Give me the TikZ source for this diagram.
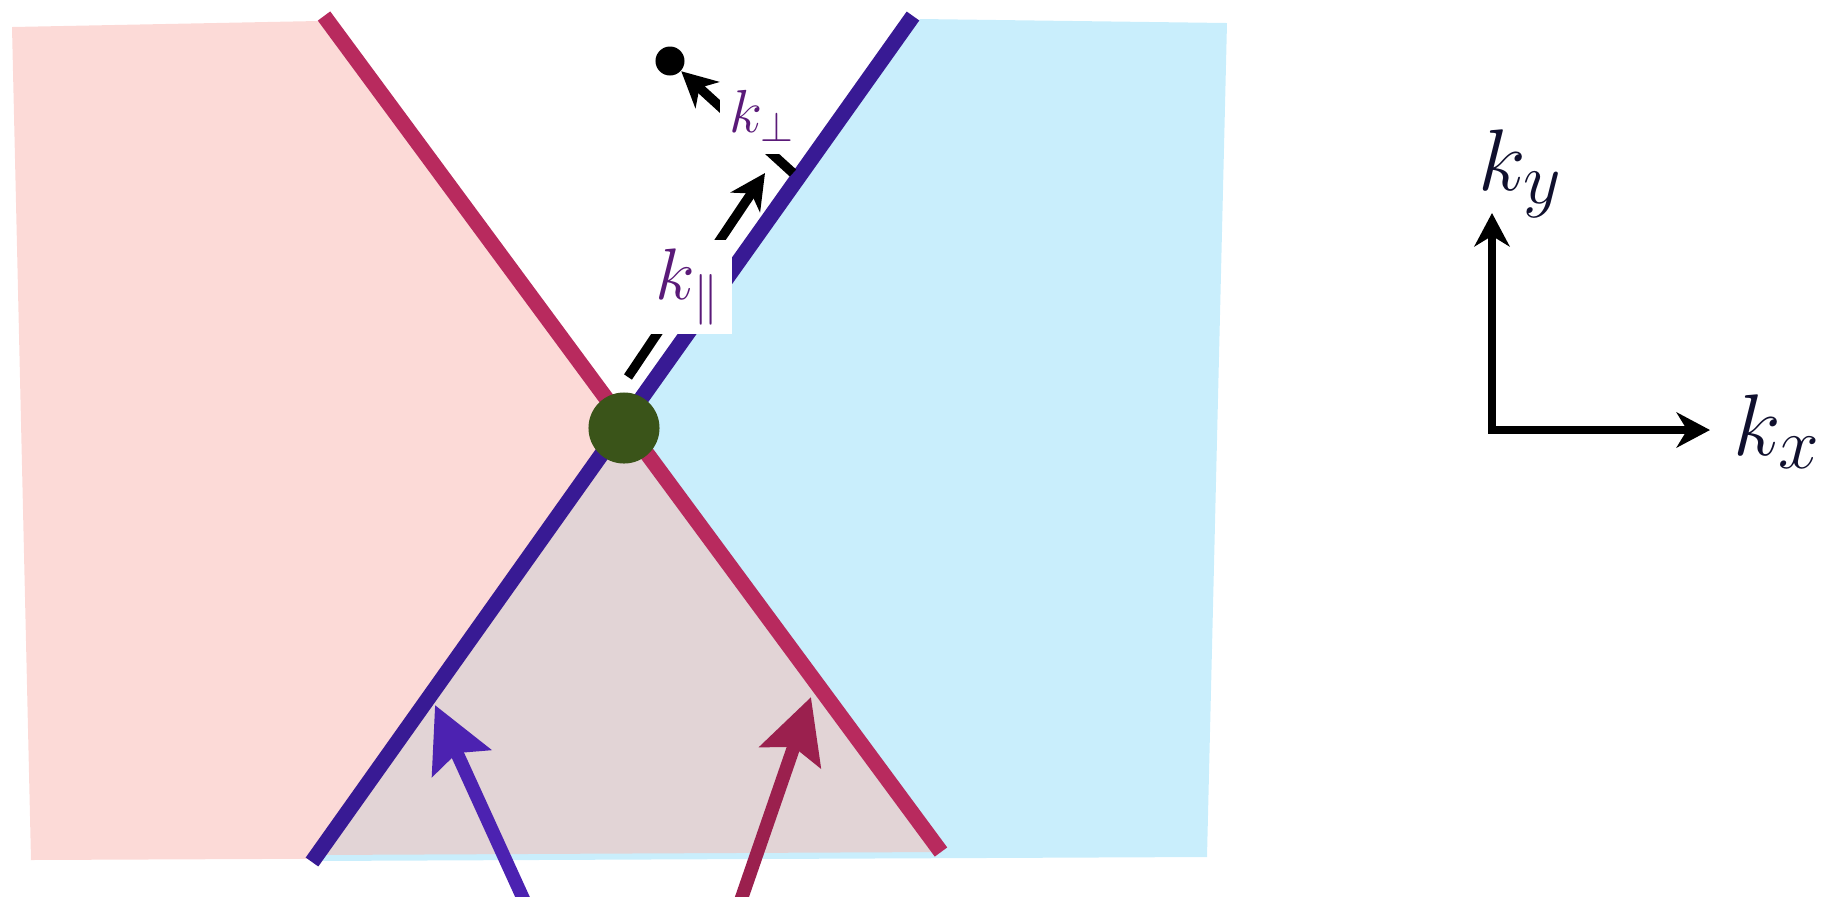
\documentclass[tikz,border=0pt]{standalone}
\usepackage{amsmath,amssymb}
\usetikzlibrary{arrows.meta}
\definecolor{PinkFill}{HTML}{FCDAD7}
\definecolor{SkyFill}{HTML}{C9EEFC}
\definecolor{Mauve}{HTML}{E2D4D6}
\definecolor{WallRed}{HTML}{B82A5E}
\definecolor{WallBlue}{HTML}{381A94}
\definecolor{Olive}{HTML}{3A5419}
\definecolor{ProbeBlue}{HTML}{4C22B1}
\definecolor{ProbeRed}{HTML}{9B204E}
\definecolor{LabPurple}{HTML}{5A1A78}
\definecolor{LabNavy}{HTML}{10102E}
\begin{document}
\begin{tikzpicture}[x=0.01cm,y=-0.01cm,
    wall/.style={line width=4.4pt},
    kvec/.style={-{Stealth[length=10pt,width=10pt,inset=3pt]},line width=2.7pt},
    probe/.style={-{Stealth[length=18pt,width=18pt,inset=3pt]},line width=3.8pt},
    axis/.style={{Stealth[length=9.5pt,width=10pt,inset=3pt]}-{Stealth[length=9.5pt,width=10pt,inset=3pt]},line width=2pt},
    klab/.style={text=LabPurple,fill=white,inner sep=0pt},
    axlab/.style={text=LabNavy,font=\Huge,inner sep=0pt,anchor=base west}]
    \useasboundingbox (0,0) rectangle (1832,896);
    \coordinate (X) at (624,428);
    \coordinate (redTop) at (324,16);
    \coordinate (redBot) at (941,852);
    \coordinate (blueTop) at (913,16);
    \coordinate (blueBot) at (312,862);
    \fill[PinkFill] (12,27) -- (318,21) -- (X) -- (941,856) -- (31,860) -- cycle;
    \fill[SkyFill] (X) -- (920,19) -- (1227,23) -- (1207,857) -- (312,861) -- cycle;
    \fill[Mauve] (X) -- (317,855) -- (941,852) -- cycle;
    \draw[wall,WallRed] (redTop) -- (redBot);
    \draw[wall,WallBlue] (blueTop) -- (blueBot);
    \node[circle,fill=Olive,minimum size=0.71cm,inner sep=0pt] (gamma) at (X) {};
    \coordinate (kparS) at (628,377);
    \coordinate (kparE) at (765,173);
    \coordinate (kperS) at (793,173);
    \node[circle,fill=black,minimum size=0.29cm,inner sep=0pt] (tip) at (670,61) {};
    \draw[kvec] (kparS) -- (kparE);
    \draw[kvec] (kperS) -- (tip);
    \node[klab,font=\huge,minimum width=0.87cm,minimum height=0.93cm] (kpar) at (688,287) {$k_{\parallel}$};
    \node[klab,font=\LARGE,minimum width=0.84cm,minimum height=0.75cm] (kper) at (762,116) {$k_{\perp}$};
    \coordinate (inBlue) at (533,920);
    \coordinate (outBlue) at (435,705);
    \coordinate (inRed) at (734,920);
    \coordinate (outRed) at (811,697);
    \draw[probe,ProbeBlue] (inBlue) -- (outBlue);
    \draw[probe,ProbeRed] (inRed) -- (outRed);
    \coordinate (ky) at (1492,213);
    \coordinate (kx) at (1710,430);
    \draw[axis] (ky) |- (kx);
    \node[axlab] (kylab) at (1478,190) {$k_y$};
    \node[axlab] (kxlab) at (1733,455) {$k_x$};
\end{tikzpicture}
\end{document}
